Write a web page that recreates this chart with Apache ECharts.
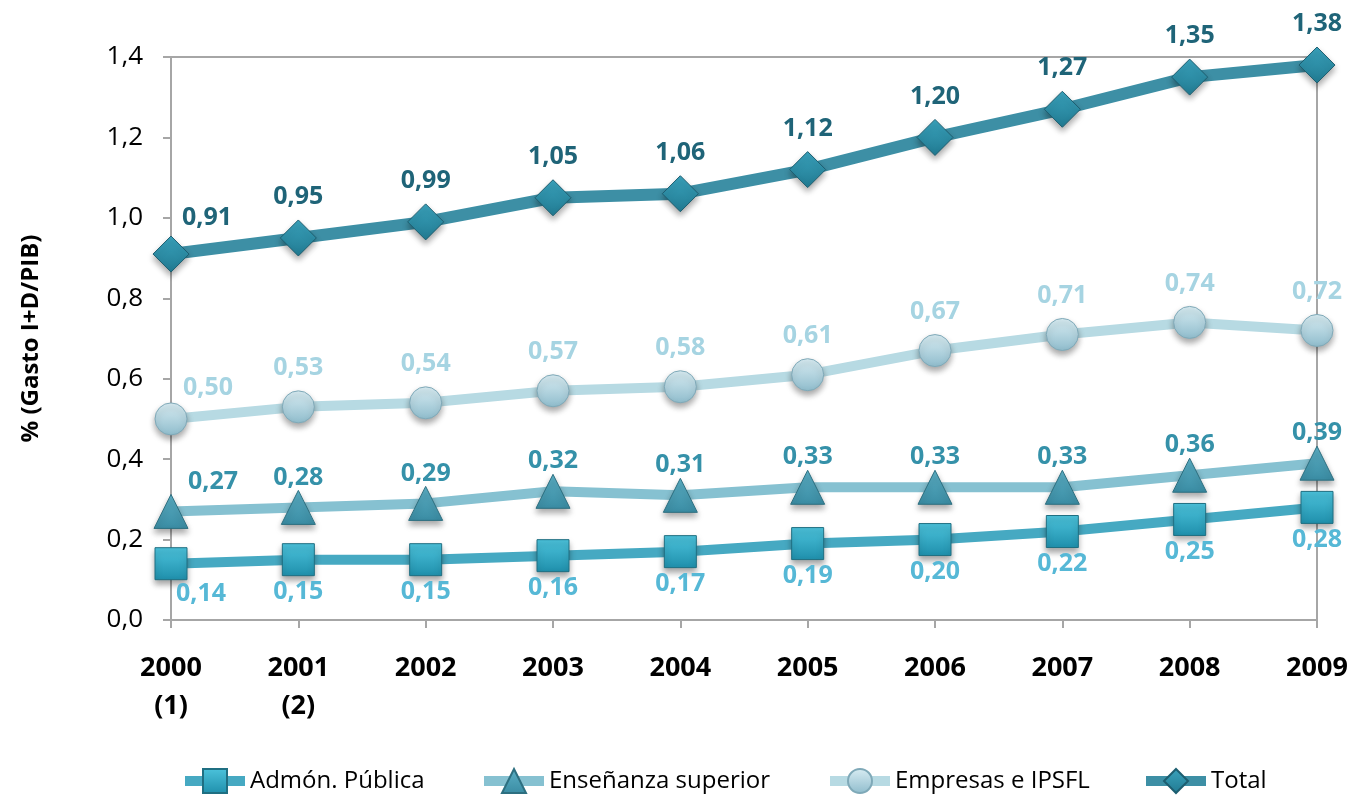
<!DOCTYPE html>
<html>
<head>
<meta charset="utf-8">
<script src="https://cdn.jsdelivr.net/npm/echarts@6/dist/echarts.min.js"></script>
<style>
  html, body { margin: 0; padding: 0; background: #fff; }
  #chart { width: 1354px; height: 803px; }
</style>
</head>
<body>
<div id="chart"></div>
<script>
// años (eje x)
var years = ['2000\n(1)', '2001\n(2)', '2002', '2003', '2004', '2005', '2006', '2007', '2008', '2009'];
// % gasto I+D / PIB por sector
var admonPublica = [0.14, 0.15, 0.15, 0.16, 0.17, 0.19, 0.20, 0.22, 0.25, 0.28];
var ensenanzaSup = [0.27, 0.28, 0.29, 0.32, 0.31, 0.33, 0.33, 0.33, 0.36, 0.39];
var empresas = [0.50, 0.53, 0.54, 0.57, 0.58, 0.61, 0.67, 0.71, 0.74, 0.72];
var total = [0.91, 0.95, 0.99, 1.05, 1.06, 1.12, 1.20, 1.27, 1.35, 1.38];

var FONT = '"Open Sans", "DejaVu Sans", sans-serif';

function coma(v, d) {
  return v.toFixed(d).replace('.', ',');
}

// el primer punto lleva la etiqueta desplazada, como en el original
function puntos(values, firstPos, firstOffset, firstDist) {
  return values.map(function (v, i) {
    if (i === 0) {
      return { value: v, label: { position: firstPos, offset: firstOffset, distance: firstDist } };
    }
    return v;
  });
}

function relleno(c1, c2) {
  return new echarts.graphic.LinearGradient(0, 0, 0, 1, [
    { offset: 0, color: c1 },
    { offset: 1, color: c2 }
  ]);
}

function serie(name, values, opt) {
  return {
    name: name,
    type: 'line',
    data: puntos(values, opt.firstPos, opt.firstOffset, opt.firstDist),
    symbol: opt.symbol,
    symbolSize: opt.size,
    z: opt.z,
    lineStyle: { color: opt.line, width: opt.width },
    itemStyle: {
      color: opt.marker,
      borderColor: opt.border,
      borderWidth: 1,
      shadowColor: 'rgba(0,0,0,0.35)',
      shadowBlur: 6,
      shadowOffsetY: 4
    },
    label: {
      show: true,
      position: opt.pos,
      distance: opt.dist,
      color: opt.labelColor,
      fontFamily: FONT,
      fontWeight: 'bold',
      fontSize: 25,
      formatter: function (p) { return coma(p.value, 2); }
    },
    emphasis: { disabled: true }
  };
}

// una leyenda por elemento para respetar los huecos del original
function leyenda(name, left) {
  return {
    left: left,
    bottom: 4,
    itemWidth: 60,
    itemHeight: 30,
    lineStyle: { width: 10 },
    textStyle: { fontFamily: FONT, fontSize: 24, color: '#000' },
    data: [name]
  };
}

var chart = echarts.init(document.getElementById('chart'));
chart.setOption({
  animation: false,
  grid: {
    left: 171, right: 37, top: 57, bottom: 183,
    show: true, borderColor: '#a6a6a6', borderWidth: 2
  },
  legend: [
    leyenda('Admón. Pública', 175),
    leyenda('Enseñanza superior', 474),
    leyenda('Empresas e IPSFL', 820),
    leyenda('Total', 1136)
  ],
  xAxis: {
    type: 'category',
    data: years,
    boundaryGap: false,
    axisLine: { lineStyle: { color: '#a6a6a6', width: 2 } },
    axisTick: { show: true, alignWithLabel: true, length: 8, lineStyle: { color: '#a6a6a6', width: 2 } },
    axisLabel: {
      margin: 29,
      color: '#000',
      fontFamily: FONT,
      fontWeight: 'bold',
      fontSize: 27,
      lineHeight: 38
    },
    splitLine: { show: false }
  },
  yAxis: {
    type: 'value',
    min: 0,
    max: 1.4,
    interval: 0.2,
    name: '% (Gasto I+D/PIB)',
    nameLocation: 'middle',
    nameGap: 128,
    nameTextStyle: { fontFamily: FONT, fontWeight: 'bold', fontSize: 24, color: '#000' },
    axisLine: { show: true, lineStyle: { color: '#a6a6a6', width: 2 } },
    axisTick: { show: true, length: 8, lineStyle: { color: '#a6a6a6', width: 2 } },
    axisLabel: {
      margin: 28,
      color: '#000',
      fontFamily: FONT,
      fontSize: 26,
      formatter: function (v) { return coma(v, 1); }
    },
    splitLine: { show: false }
  },
  series: [
    serie('Admón. Pública', admonPublica, {
      symbol: 'rect', size: 32, z: 3,
      line: '#46a9c2', width: 10, marker: relleno('#4cc3dc', '#1f8fab'), border: '#1f6f82',
      labelColor: '#56b8d6', pos: 'bottom', dist: 3,
      firstPos: 'bottom', firstOffset: [30, -2], firstDist: 3
    }),
    serie('Enseñanza superior', ensenanzaSup, {
      symbol: 'triangle', size: 34, z: 4,
      line: '#86c1d1', width: 10, marker: relleno('#5cb0c6', '#3a8ca3'), border: '#2d6f80',
      labelColor: '#3591a9', pos: 'top', dist: 0,
      firstPos: 'top', firstOffset: [42, 0], firstDist: 0
    }),
    serie('Empresas e IPSFL', empresas, {
      symbol: 'circle', size: 32, z: 5,
      line: '#b7dae3', width: 10, marker: relleno('#d9edf3', '#8fbccc'), border: '#7fa9b8',
      labelColor: '#a6d4e2', pos: 'top', dist: 10,
      firstPos: 'top', firstOffset: [37, 0], firstDist: 2
    }),
    serie('Total', total, {
      symbol: 'diamond', size: 36, z: 6,
      line: '#3d8fa5', width: 12, marker: relleno('#3aa3bd', '#217a91'), border: '#1d5e70',
      labelColor: '#1f6478', pos: 'top', dist: 10,
      firstPos: 'top', firstOffset: [36, 0], firstDist: 5
    })
  ]
});
</script>
</body>
</html>
